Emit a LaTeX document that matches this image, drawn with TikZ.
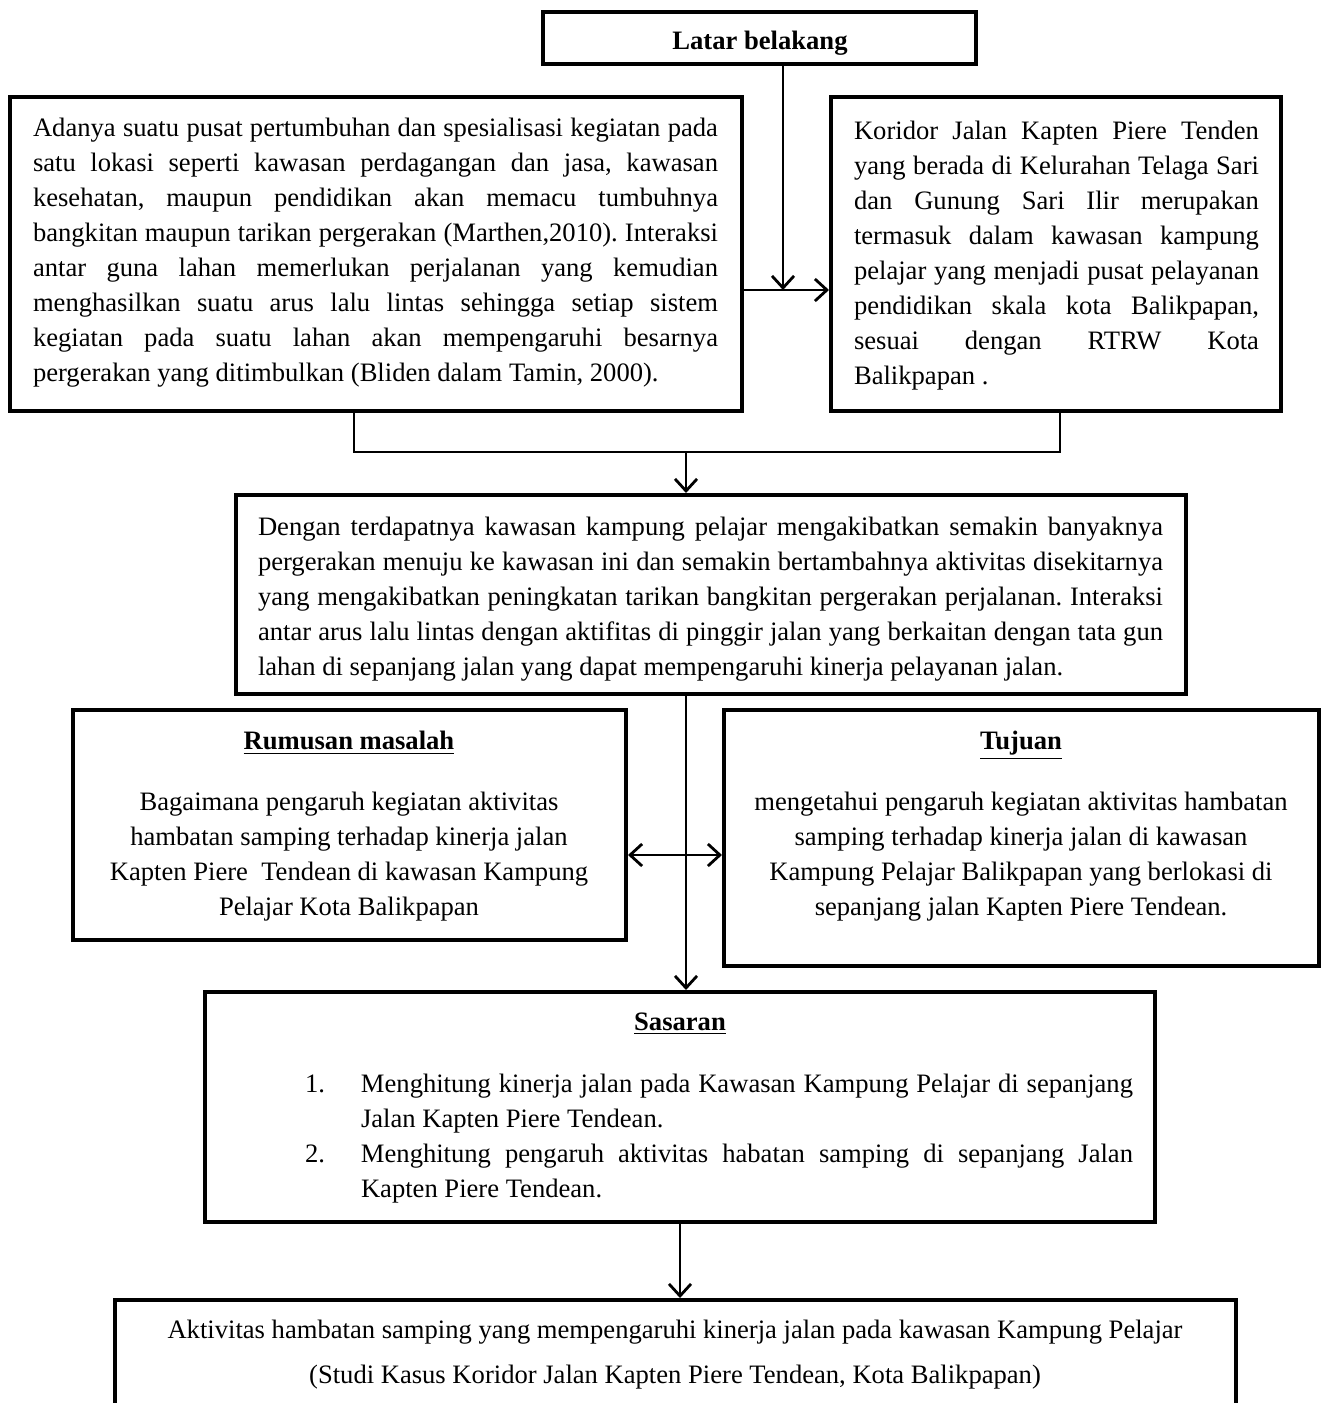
\documentclass[tikz,border=0pt]{standalone}
\usepackage{fontspec}
\setmainfont{Liberation Serif}
\usetikzlibrary{arrows.meta}
\frenchspacing

\begin{document}
\begin{tikzpicture}[x=0.5pt,y=-0.5pt,
    box/.style={draw, line width=2pt, inner sep=0pt},
    txt/.style={inner sep=0pt, font=\fontsize{13.3}{17.5}\selectfont},
    conn/.style={line width=1.4pt},
    arr/.style={conn, -{Straight Barb[length=6pt,width=11pt]}},
    arrs/.style={conn, {Straight Barb[length=6pt,width=11pt]}-{Straight Barb[length=6pt,width=11pt]}}]
    \clip (0,0) rectangle (1323,1403);

    % boxes
    \node [box, minimum width=216.5pt, minimum height=26pt] (latar) at (759.5,38) {};
    \node [box, minimum width=366pt, minimum height=157pt] (dasar) at (376,254) {};
    \node [box, minimum width=225pt, minimum height=157pt] (koridor) at (1056,254) {};
    \node [box, minimum width=475pt, minimum height=99.5pt] (masalah) at (711,594.5) {};
    \node [box, minimum width=276.5pt, minimum height=115pt] (rumusan) at (349.5,825) {};
    \node [box, minimum width=297.5pt, minimum height=128pt] (tujuan) at (1021.5,838) {};
    \node [box, minimum width=475pt, minimum height=115pt] (sasaran) at (680,1107) {};
    \node [box, minimum width=560.5pt, minimum height=65pt] (judul) at (675.5,1365) {};

    % texts
    \node [txt, font=\fontsize{13.3}{17.5}\selectfont\bfseries] (latart) at (760,43) {Latar belakang};
    \node [txt, text width=342.5pt, align=justify] (dasart) at (375.5,253) {Adanya suatu pusat pertumbuhan dan spesialisasi kegiatan pada\linebreak
      satu lokasi seperti kawasan perdagangan dan jasa, kawasan\linebreak
      kesehatan, maupun pendidikan akan memacu tumbuhnya\linebreak
      bangkitan maupun tarikan pergerakan (Marthen,2010). Interaksi\linebreak
      antar guna lahan memerlukan perjalanan yang kemudian\linebreak
      menghasilkan suatu arus lalu lintas sehingga setiap sistem\linebreak
      kegiatan pada suatu lahan akan mempengaruhi besarnya\linebreak
      pergerakan yang ditimbulkan (Bliden dalam Tamin, 2000).};
    \node [txt, text width=202.5pt, align=justify] (koridort) at (1056.5,255.5) {Koridor Jalan Kapten Piere Tenden\linebreak
      yang berada di Kelurahan Telaga Sari\linebreak
      dan Gunung Sari Ilir merupakan\linebreak
      termasuk dalam kawasan kampung\linebreak
      pelajar yang menjadi pusat pelayanan\linebreak
      pendidikan skala kota Balikpapan,\linebreak
      sesuai dengan RTRW Kota\linebreak
      Balikpapan .};
    \node [txt, text width=452.5pt, align=justify] (masalaht) at (710.5,599.5) {Dengan terdapatnya kawasan kampung pelajar mengakibatkan semakin banyaknya\linebreak
      pergerakan menuju ke kawasan ini dan semakin bertambahnya aktivitas disekitarnya\linebreak
      yang mengakibatkan peningkatan tarikan bangkitan pergerakan perjalanan. Interaksi\linebreak
      antar arus lalu lintas dengan aktifitas di pinggir jalan yang berkaitan dengan tata gun\linebreak
      lahan di sepanjang jalan yang dapat mempengaruhi kinerja pelayanan jalan.};
    \node [txt, align=center] (rumusant) at (349,826.5) {\textbf{\underline{Rumusan masalah}}\\[13pt]
      Bagaimana pengaruh kegiatan aktivitas\\
      hambatan samping terhadap kinerja jalan\\
      Kapten Piere\ \ Tendean di kawasan Kampung\\
      Pelajar Kota Balikpapan};
    \node [txt, align=center] (tujuant) at (1021,826.5) {\textbf{\underline{Tujuan}}\\[13pt]
      mengetahui pengaruh kegiatan aktivitas hambatan\\
      samping terhadap kinerja jalan di kawasan\\
      Kampung Pelajar Balikpapan yang berlokasi di\\
      sepanjang jalan Kapten Piere Tendean.};
    \node [txt, font=\fontsize{13.3}{17.5}\selectfont\bfseries] (sasarant) at (680,1024) {\underline{Sasaran}};
    \node [txt, text width=414pt, align=justify] (sasaranl) at (719,1139) {%
      {\hangindent=28pt\hangafter=1\makebox[28pt][l]{1.}Menghitung kinerja jalan pada Kawasan Kampung Pelajar di sepanjang\linebreak
      Jalan Kapten Piere Tendean.\par}
      {\hangindent=28pt\hangafter=1\makebox[28pt][l]{2.}Menghitung pengaruh aktivitas habatan samping di sepanjang Jalan\linebreak
      Kapten Piere Tendean.\par}};
    \node [txt, font=\fontsize{13.3}{22.5}\selectfont, align=center] (judult) at (675,1355) {Aktivitas hambatan samping yang mempengaruhi kinerja jalan pada kawasan Kampung Pelajar\\
      (Studi Kasus Koridor Jalan Kapten Piere Tendean, Kota Balikpapan)};

    % connectors
    \coordinate (temu) at (783,290);
    \coordinate (kiri) at (354,452);
    \coordinate (kanan) at (1060,452);
    \coordinate (tengah) at (686,452);
    \coordinate (silang) at (686,855);
    \draw [arr] (latar.south -| temu) -- (temu);
    \draw [arr] (dasar.east |- temu) -- (koridor.west |- temu);
    \draw [conn] (dasar.south -| kiri) -- (kiri) -- (kanan) -- (koridor.south -| kanan);
    \draw [arr] (tengah) -- (masalah.north -| tengah);
    \draw [arr] (masalah.south -| silang) -- (sasaran.north -| silang);
    \draw [arrs] (rumusan.east |- silang) -- (tujuan.west |- silang);
    \draw [arr] (sasaran.south) -- (judul.north -| sasaran.south);
\end{tikzpicture}
\end{document}
